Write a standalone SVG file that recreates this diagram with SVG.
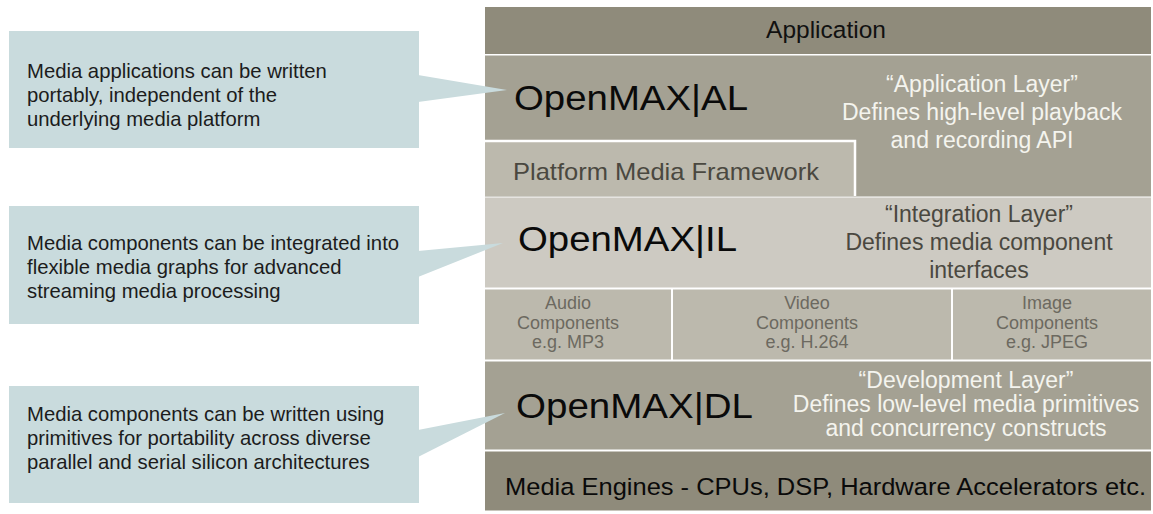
<svg xmlns="http://www.w3.org/2000/svg" width="1153" height="514" viewBox="0 0 1153 514">
<style>
text{font-family:"Liberation Sans",Arial,sans-serif}
.callout{fill:#c9dbdd}
.ct{font-size:20.3px;fill:#1c1c1c}
.dark{fill:#8f8b7b}
.mid{fill:#a4a193}
.light{fill:#bcb9ad}
.pale{fill:#cdcac2}
.sep{stroke:#ffffff;stroke-width:2.5}
.title{font-size:35px;fill:#0a0a0a}
.desc{font-size:23px;text-anchor:middle}
.comp{font-size:18px;fill:#6c6960;text-anchor:middle}
</style>
<rect width="1153" height="514" fill="#ffffff"/>
<g id="application">
<rect class="dark" x="485" y="7" width="666" height="47"/>
<text x="826" y="38" font-size="24.5" fill="#111" text-anchor="middle">Application</text>
</g>
<g id="openmax-al">
<rect class="mid" x="485" y="55.5" width="666" height="141"/>
<text class="title" x="514" y="110" textLength="234" lengthAdjust="spacingAndGlyphs">OpenMAX|AL</text>
<text class="desc" fill="#f4f4ee"><tspan x="982" y="92">“Application Layer”</tspan><tspan x="982" y="120">Defines high-level playback</tspan><tspan x="982" y="148">and recording API</tspan></text>
</g>
<g id="platform-media-framework">
<rect class="light" x="485" y="141" width="370" height="55"/>
<path class="sep" d="M485 141H855V196" fill="none"/>
<text x="513" y="180" font-size="24" fill="#4a4840" textLength="306" lengthAdjust="spacingAndGlyphs">Platform Media Framework</text>
</g>
<g id="openmax-il">
<rect class="pale" x="485" y="197.5" width="666" height="90"/>
<text class="title" x="518" y="251" textLength="219" lengthAdjust="spacingAndGlyphs">OpenMAX|IL</text>
<text class="desc" fill="#4a4840"><tspan x="979" y="222">“Integration Layer”</tspan><tspan x="979" y="250">Defines media component</tspan><tspan x="979" y="278">interfaces</tspan></text>
</g>
<g id="audio-components">
<rect class="light" x="485" y="289.5" width="186" height="70"/>
<text class="comp"><tspan x="568" y="309">Audio</tspan><tspan x="568" y="329">Components</tspan><tspan x="568" y="348">e.g. MP3</tspan></text>
</g>
<g id="video-components">
<rect class="light" x="673" y="289.5" width="278" height="70"/>
<text class="comp"><tspan x="807" y="309">Video</tspan><tspan x="807" y="329">Components</tspan><tspan x="807" y="348">e.g. H.264</tspan></text>
</g>
<g id="image-components">
<rect class="light" x="953" y="289.5" width="198" height="70"/>
<text class="comp"><tspan x="1047" y="309">Image</tspan><tspan x="1047" y="329">Components</tspan><tspan x="1047" y="348">e.g. JPEG</tspan></text>
</g>
<g id="openmax-dl">
<rect class="mid" x="485" y="361.5" width="666" height="88"/>
<text class="title" x="516" y="418" textLength="237" lengthAdjust="spacingAndGlyphs">OpenMAX|DL</text>
<text class="desc" fill="#f4f4ee"><tspan x="966" y="388">“Development Layer”</tspan><tspan x="966" y="412">Defines low-level media primitives</tspan><tspan x="966" y="436">and concurrency constructs</tspan></text>
</g>
<g id="media-engines">
<rect class="dark" x="485" y="451.5" width="666" height="59"/>
<text x="505" y="495" font-size="24.5" fill="#0a0a0a" textLength="641" lengthAdjust="spacingAndGlyphs">Media Engines - CPUs, DSP, Hardware Accelerators etc.</text>
</g>
<g id="callout-al">
<rect class="callout" x="9" y="31" width="410" height="117"/>
<text class="ct"><tspan x="27" y="78">Media applications can be written</tspan><tspan x="27" y="102">portably, independent of the</tspan><tspan x="27" y="126">underlying media platform</tspan></text>
</g>
<g id="callout-il">
<rect class="callout" x="9" y="206" width="410" height="118"/>
<text class="ct"><tspan x="27" y="250">Media components can be integrated into</tspan><tspan x="27" y="274">flexible media graphs for advanced</tspan><tspan x="27" y="298">streaming media processing</tspan></text>
</g>
<g id="callout-dl">
<rect class="callout" x="9" y="386" width="410" height="117"/>
<text class="ct"><tspan x="27" y="421">Media components can be written using</tspan><tspan x="27" y="445">primitives for portability across diverse</tspan><tspan x="27" y="469">parallel and serial silicon architectures</tspan></text>
</g>
<g id="connectors">
<polygon class="callout" points="418,75 507,90 418,102"/>
<polygon class="callout" points="418,251 503,243 418,277"/>
<polygon class="callout" points="418,430 505,413 418,457"/>
</g>
</svg>
